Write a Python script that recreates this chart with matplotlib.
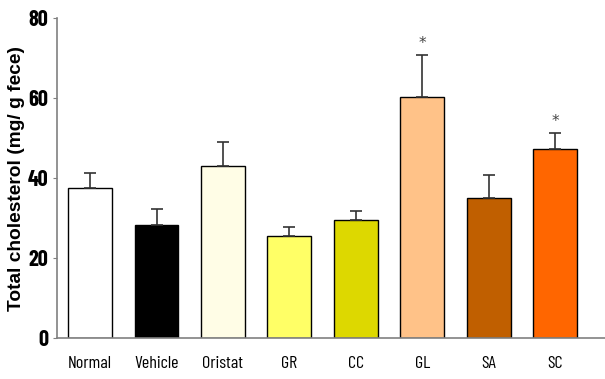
import matplotlib
matplotlib.use("Agg")
import matplotlib.pyplot as plt

# ─── Data ─────────────────────────────────────────────────────────────────────
GROUPS = ["Normal", "Vehicle", "Oristat", "GR", "CC", "GL", "SA", "SC"]
MEANS = [37.5, 28.2, 43.0, 25.6, 29.5, 60.2, 35.0, 47.2]
SEM = [3.7, 4.0, 6.1, 2.2, 2.2, 10.5, 5.7, 4.0]
SIGNIF = ["", "", "", "", "", "*", "", "*"]
COLORS = ["#FFFFFF", "#000000", "#FFFDE6", "#FFFF66", "#DDD800",
          "#FFC288", "#C05F00", "#FF6600"]
YTICKS = [0, 20, 40, 60, 80]

NARROW = "Barlow Condensed"

fig = plt.figure(figsize=(6.05, 3.79), dpi=100)
ax = fig.add_axes([0.094, 0.108, 0.906, 0.844])

x = range(len(GROUPS))
ax.bar(x, MEANS, width=0.66, color=COLORS, edgecolor="black", linewidth=1.0,
       yerr=[[0] * len(SEM), SEM], capsize=4,
       error_kw=dict(ecolor="#333333", elinewidth=1.2, capthick=1.2))

for i, (m, s, t) in enumerate(zip(MEANS, SEM, SIGNIF)):
    if t:
        ax.text(i, m + s + 1.0, t, ha="center", va="bottom", fontsize=11,
                color="#444444", family="DejaVu Sans")

ax.set_xlim(-0.5, 7.75)
ax.set_ylim(0, 80)
ax.set_yticks(YTICKS)
ax.set_xticks(list(x))
ax.set_xticklabels(GROUPS, family=NARROW, fontsize=13)
ax.set_yticklabels([str(v) for v in YTICKS], family=NARROW,
                   fontweight="bold", fontsize=16)
ax.tick_params(axis="x", length=0, pad=13)
ax.tick_params(axis="y", length=3, color="#808080", pad=3)

ax.set_ylabel("Total cholesterol (mg/ g fece)", fontsize=13.8, fontweight="bold",
              family="Liberation Sans", labelpad=2)

for side in ["top", "right"]:
    ax.spines[side].set_visible(False)
for side in ["left", "bottom"]:
    ax.spines[side].set_color("#808080")
    ax.spines[side].set_linewidth(1.2)

plt.savefig("out.png", dpi=100)
plt.close()
